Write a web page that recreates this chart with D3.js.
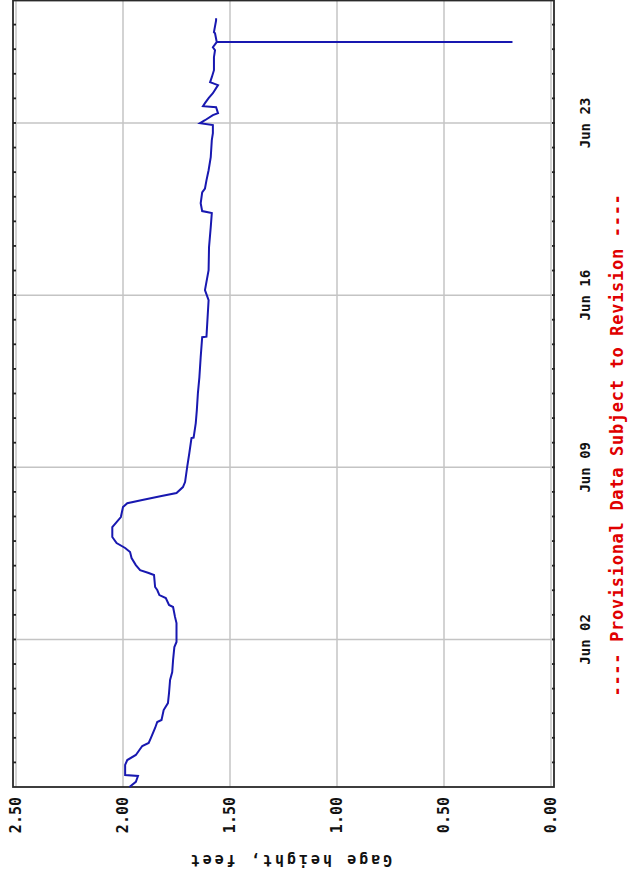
<!DOCTYPE html>
<html><head><meta charset="utf-8">
<script src="https://cdn.jsdelivr.net/npm/d3@7"></script>
<style>
html,body{margin:0;padding:0;background:#fff;}
svg{display:block;}
</style></head>
<body>
<svg id="chart" width="628" height="882"></svg>
<script>
// ---- data (gage height, feet; time runs bottom-to-top in the rotated picture)
const times = [
"2013-05-27T00:00","2013-05-27T05:00","2013-05-27T10:45","2013-05-27T11:45","2013-05-27T21:30",
"2013-05-28T02:20","2013-05-28T07:15","2013-05-28T16:00","2013-05-28T19:00","2013-05-28T23:45",
"2013-05-29T09:35","2013-05-29T15:25","2013-05-29T17:25","2013-05-30T03:05","2013-05-30T09:55",
"2013-05-30T19:40","2013-05-31T08:25","2013-05-31T16:10","2013-06-01T03:55","2013-06-01T16:35",
"2013-06-01T21:30","2013-06-02T16:00","2013-06-02T22:00","2013-06-03T07:40","2013-06-03T09:35",
"2013-06-03T16:25","2013-06-03T19:20","2013-06-04T00:15","2013-06-04T03:10","2013-06-04T14:50",
"2013-06-04T16:50","2013-06-04T19:40","2013-06-05T00:35","2013-06-05T07:25","2013-06-05T13:20",
"2013-06-05T17:15","2013-06-05T22:00","2013-06-06T03:55","2013-06-06T13:40","2013-06-06T18:30",
"2013-06-06T23:25","2013-06-07T09:10","2013-06-07T13:00","2013-06-07T16:00","2013-06-07T19:55",
"2013-06-07T22:50","2013-06-08T04:40","2013-06-08T09:35","2013-06-09T00:30","2013-06-09T13:55",
"2013-06-10T04:30","2013-06-10T05:00","2013-06-10T19:10","2013-06-11T07:50","2013-06-12T00:25",
"2013-06-12T16:00","2013-06-13T11:30","2013-06-14T07:00","2013-06-14T07:30","2013-06-15T19:05",
"2013-06-16T04:50","2013-06-17T00:25","2013-06-17T22:50","2013-06-18T18:20","2013-06-19T08:00",
"2013-06-19T10:00","2013-06-19T17:40","2013-06-20T04:10","2013-06-20T08:00","2013-06-20T16:00",
"2013-06-21T01:55","2013-06-21T14:35","2013-06-22T07:10","2013-06-22T14:05","2013-06-22T21:55",
"2013-06-22T23:50","2013-06-23T02:40","2013-06-23T07:40","2013-06-23T09:35","2013-06-23T15:25",
"2013-06-23T16:25","2013-06-23T19:20","2013-06-24T00:15","2013-06-24T05:00","2013-06-24T12:55",
"2013-06-24T15:50","2013-06-24T20:40","2013-06-25T03:30","2013-06-25T16:10","2013-06-25T23:00",
"2013-06-26T01:55","2013-06-26T06:55","2013-06-26T07:00","2013-06-26T07:05","2013-06-26T15:35",
"2013-06-26T16:35","2013-06-27T04:10","2013-06-27T06:10"
];
const gage = [
1.97,1.94,1.93,1.99,1.99,
1.98,1.94,1.91,1.88,1.87,
1.85,1.84,1.82,1.81,1.79,
1.785,1.78,1.77,1.766,1.76,
1.75,1.75,1.757,1.766,1.785,
1.80,1.83,1.84,1.85,1.855,
1.88,1.92,1.94,1.96,1.967,
1.99,2.03,2.05,2.05,2.03,
2.01,2.00,1.98,1.91,1.82,
1.75,1.72,1.71,1.70,1.69,
1.68,1.67,1.66,1.655,1.65,
1.643,1.637,1.63,1.61,1.60,
1.617,1.60,1.598,1.59,1.585,
1.63,1.637,1.63,1.617,1.61,
1.60,1.59,1.585,1.58,1.58,
1.64,1.617,1.58,1.556,1.565,
1.626,1.617,1.60,1.58,1.556,
1.593,1.585,1.575,1.575,1.57,
1.58,1.562,0.18,1.562,1.57,
1.575,1.565,1.565
];
const valueTicks = [2.5, 2.0, 1.5, 1.0, 0.5, 0.0];
const dateTicks = ["2013-06-02","2013-06-09","2013-06-16","2013-06-23"];
const timeDomain = ["2013-05-27T00:00","2013-06-28T00:00"];
const yLabel = "Gage height, feet";
const note = "---- Provisional Data Subject to Revision ----";

// ---- layout
const parse = d3.timeParse("%Y-%m-%dT%H:%M");
const parseDay = d3.timeParse("%Y-%m-%d");
const data = times.map((t,i)=>({t:parse(t), v:gage[i]}));

const frame = {left:13, right:554, top:0.5, bottom:787};
const xV = d3.scaleLinear().domain([0,2.5]).range([551,16]);
const yT = d3.scaleTime().domain(timeDomain.map(parse)).range([787,0]);

const svg = d3.select("#chart");
const mono = "'DejaVu Sans Mono', 'Liberation Mono', monospace";

// gridlines (value)
svg.append("g").selectAll("line").data(valueTicks).join("line")
  .attr("x1",d=>xV(d)).attr("x2",d=>xV(d))
  .attr("y1",frame.top).attr("y2",frame.bottom)
  .attr("stroke","#c4c4c4").attr("stroke-width",1.5);
// gridlines (time)
svg.append("g").selectAll("line").data(dateTicks.map(parseDay)).join("line")
  .attr("x1",frame.left).attr("x2",frame.right)
  .attr("y1",d=>yT(d)).attr("y2",d=>yT(d))
  .attr("stroke","#c4c4c4").attr("stroke-width",1.5);

// frame
svg.append("rect")
  .attr("x",frame.left).attr("y",frame.top)
  .attr("width",frame.right-frame.left).attr("height",frame.bottom-frame.top)
  .attr("fill","none").attr("stroke","#2a2a2a").attr("stroke-width",1.8);

// daily minor ticks on both long frame edges
const days = d3.timeDay.range(yT.domain()[0], yT.domain()[1]).slice(1);
svg.append("g").selectAll("line").data(days).join("line")
  .attr("x1",frame.left).attr("x2",frame.left+3)
  .attr("y1",d=>yT(d)).attr("y2",d=>yT(d))
  .attr("stroke","#222").attr("stroke-width",1.8);
svg.append("g").selectAll("line").data(days).join("line")
  .attr("x1",frame.right-2).attr("x2",frame.right+1)
  .attr("y1",d=>yT(d)).attr("y2",d=>yT(d))
  .attr("stroke","#222").attr("stroke-width",1.8);

// data line
svg.append("path").datum(data)
  .attr("d", d3.line().x(d=>xV(d.v)).y(d=>yT(d.t)))
  .attr("fill","none").attr("stroke","#1818b0").attr("stroke-width",2)
  .attr("stroke-linejoin","miter");

// value axis labels (rotated)
const fmtV = d3.format(".2f");
svg.append("g").selectAll("text").data(valueTicks).join("text")
  .attr("transform",d=>`translate(${xV(d)},797) rotate(-90)`)
  .attr("text-anchor","end").attr("dy","0.36em")
  .attr("font-family",mono).attr("font-weight","bold").attr("font-size",15)
  .attr("fill","#111")
  .text(d=>fmtV(d));

// axis title (upside down)
svg.append("text")
  .attr("transform","translate(290,860) rotate(180)")
  .attr("text-anchor","middle").attr("dy","0.36em")
  .attr("font-family",mono).attr("font-weight","bold").attr("font-size",15)
  .attr("letter-spacing",3).attr("fill","#111")
  .text(yLabel);

// date labels
const fmtD = d3.timeFormat("%b %d");
svg.append("g").selectAll("text").data(dateTicks.map(parseDay)).join("text")
  .attr("transform",d=>`translate(584.5,${yT(d)}) rotate(-90)`)
  .attr("text-anchor","middle").attr("dy","0.36em")
  .attr("font-family",mono).attr("font-weight","bold").attr("font-size",14)
  .attr("fill","#111")
  .text(d=>fmtD(d));

// provisional note
svg.append("text")
  .attr("transform","translate(617,445) rotate(-90)")
  .attr("text-anchor","middle").attr("dy","0.36em")
  .attr("font-family",mono).attr("font-weight","bold").attr("font-size",17)
  .attr("letter-spacing",0.7).attr("fill","#e00000")
  .text(note);
</script>
</body></html>
